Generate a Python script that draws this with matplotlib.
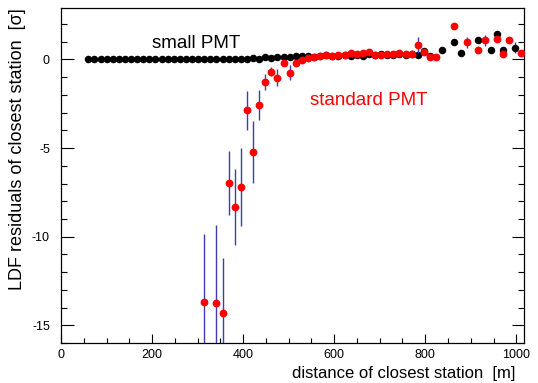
"""
LDF residuals vs distance of closest station, small PMT vs standard PMT
"""
import matplotlib
matplotlib.use("Agg")
import matplotlib.pyplot as plt
from matplotlib.ticker import MultipleLocator

plt.rcParams["font.family"] = ["Liberation Sans", "DejaVu Sans"]
plt.rcParams["axes.unicode_minus"] = False

# --- small PMT (black) ---
small_x = [60, 73, 87, 100, 114, 127, 140, 154, 167, 181, 194,
           207, 221, 234, 248, 261, 274, 288, 301, 315, 328, 341,
           355, 368, 382, 395, 408, 422, 435, 449, 462, 475,
           489, 502, 516, 529, 542, 556, 569, 583, 596, 609, 623, 636, 650,
           663, 676, 690, 703, 717, 730, 743, 757, 770, 784, 797, 810,
           837, 864, 878, 917, 945, 958, 971, 998]
small_y = [0.02, 0.01, 0.01, 0.02, 0.0, 0.01, 0.01, 0.0, 0.01, 0.0, 0.01,
           0.0, 0.01, 0.0, 0.01, 0.02, 0.0, 0.01, 0.02, 0.0, 0.02, 0.0,
           0.02, 0.03, 0.01, 0.05, 0.04, 0.06, 0.05, 0.15, 0.08, 0.13,
           0.15, 0.12, 0.18, 0.2, 0.17, 0.16, 0.2, 0.24, 0.2, 0.22, 0.26, 0.22, 0.24,
           0.2, 0.3, 0.26, 0.28, 0.24, 0.26, 0.3, 0.26, 0.28, 0.26, 0.45, 0.2,
           0.53, 0.96, 0.39, 1.11, 0.53, 1.45, 0.53, 0.66]
small_err = [0.0] * 54 + [0.05, 0.05, 0.05, 0.1, 0.1, 0.1, 0.1, 0.1, 0.15, 0.1, 0.3]

# --- standard PMT (red) ---
std_x = [314, 341, 355, 368, 382, 395, 408, 422, 435, 449, 462, 475, 489, 502, 516,
         529, 542, 556, 569, 583, 596, 609, 623, 636, 650, 663, 676, 690, 703,
         717, 730, 743, 757, 770, 784, 797, 810, 824,
         864, 891, 917, 931, 958, 971, 985, 1011]
std_y = [-13.67, -13.76, -14.31, -6.99, -8.33, -7.22, -2.88, -5.21, -2.59, -1.26,
         -0.69, -1.03, -0.21, -0.75, -0.21,
         -0.02, 0.06, 0.13, 0.19, 0.24, 0.17, 0.24, 0.26, 0.34, 0.32, 0.34, 0.41,
         0.26, 0.26, 0.28, 0.28, 0.36, 0.32, 0.28, 0.83, 0.43, 0.15, 0.11,
         1.88, 0.96, 0.53, 1.07, 1.17, 0.30, 1.09, 0.38]
std_err = [3.8, 4.4, 3.1, 1.8, 2.15, 2.2, 1.1, 1.75, 0.85, 0.45, 0.25, 0.47, 0.15, 0.42, 0.12,
           0.08, 0.08, 0.08, 0.08, 0.08, 0.08, 0.08, 0.08, 0.08, 0.08, 0.08, 0.08,
           0.08, 0.08, 0.08, 0.08, 0.08, 0.08, 0.08, 0.45, 0.1, 0.1, 0.1,
           0.1, 0.3, 0.1, 0.3, 0.1, 0.1, 0.1, 0.1]

BAR = "#3c3cb4"

fig = plt.figure(figsize=(5.38, 3.83), dpi=100)
ax = fig.add_axes([0.1134, 0.1044, 0.8606, 0.8746])

ax.errorbar(small_x, small_y, yerr=small_err, fmt="o", color="black", ms=4.4,
            ecolor=BAR, elinewidth=1.0, capsize=0, zorder=3)
ax.errorbar(std_x, std_y, yerr=std_err, fmt="o", color="red", ms=4.6,
            ecolor=BAR, elinewidth=1.0, capsize=0, zorder=4)

ax.set_xlim(0, 1017)
ax.set_ylim(-16, 2.9)

ax.xaxis.set_major_locator(MultipleLocator(200))
ax.xaxis.set_minor_locator(MultipleLocator(50))
ax.yaxis.set_major_locator(MultipleLocator(5))
ax.yaxis.set_minor_locator(MultipleLocator(1))
ax.tick_params(axis="both", which="both", direction="in", labelsize=9, width=0.8)
ax.tick_params(axis="y", which="major", length=9, right=True, pad=8)
ax.tick_params(axis="y", which="minor", length=4.5, right=True)
ax.tick_params(axis="x", which="major", length=6.5, pad=4)
ax.tick_params(axis="x", which="minor", length=3.3)
for sp in ax.spines.values():
    sp.set_linewidth(0.9)

ax.set_xlabel("distance of closest station  [m]", fontsize=12, loc="right", labelpad=4)
ax.xaxis.label.set_x(0.981)
ax.set_ylabel("LDF residuals of closest station  [\u03c3]", fontsize=13, loc="top", labelpad=4)

ax.text(200, 0.65, "small PMT", fontsize=13.5, color="black", va="baseline")
ax.text(548, -2.55, "standard PMT", fontsize=13.5, color="red", va="baseline")

fig.savefig("out.png", dpi=100, facecolor="white")
